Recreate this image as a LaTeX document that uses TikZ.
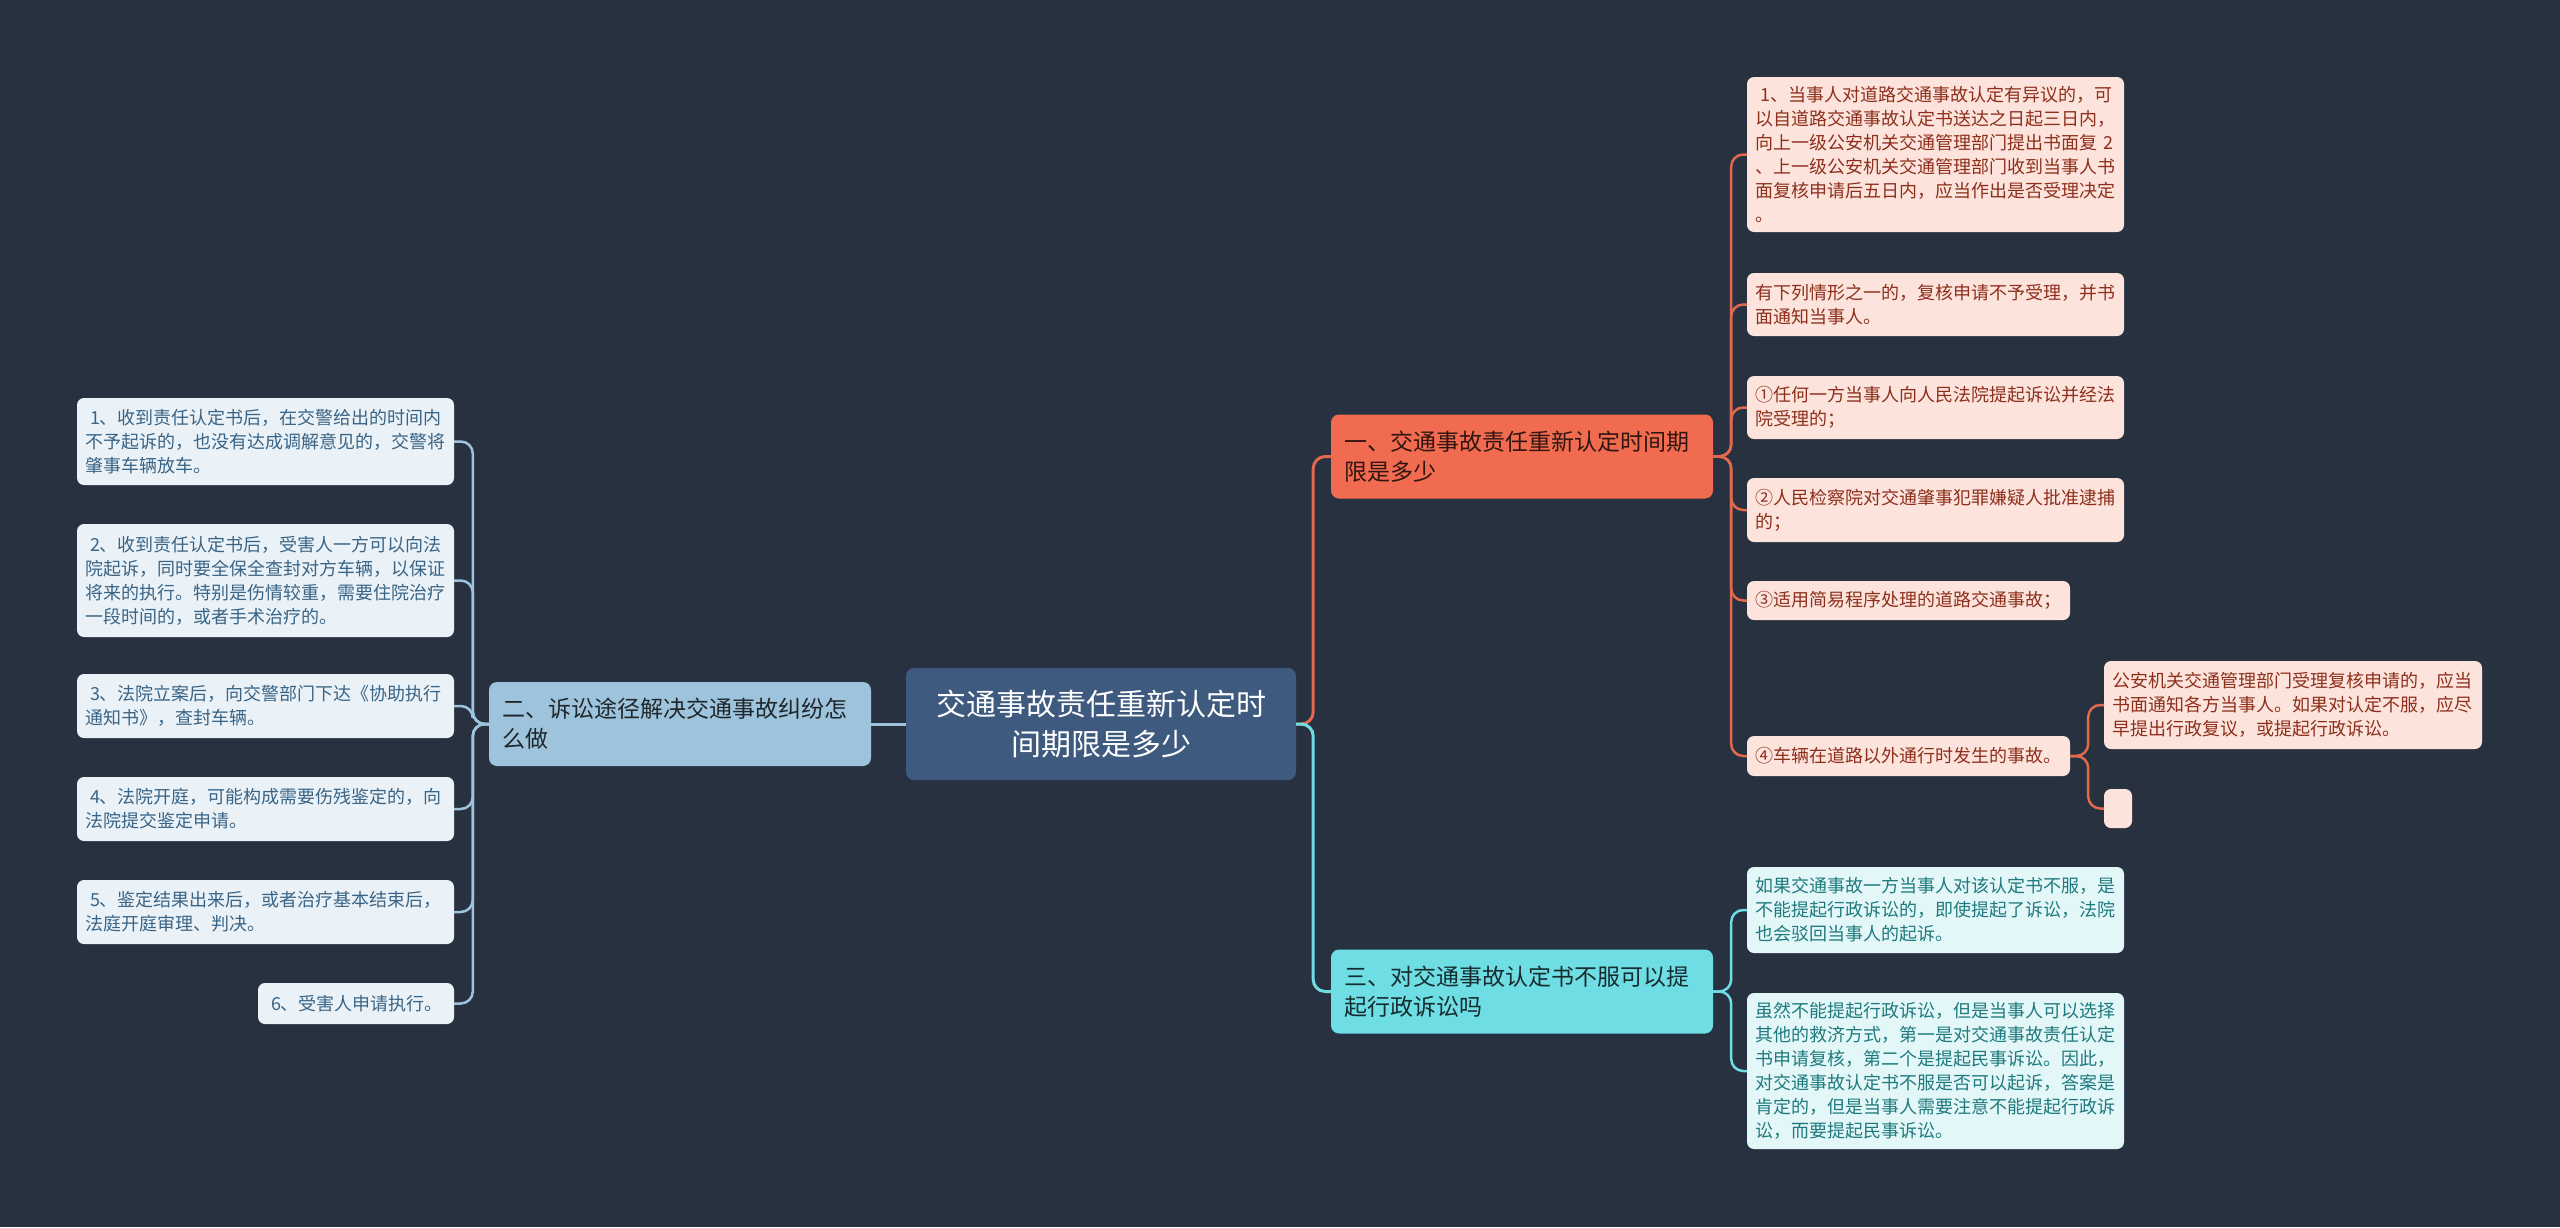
\documentclass[tikz,border=0pt]{standalone}
\usepackage{fontspec}
\setmainfont{Noto Sans CJK SC}
\definecolor{bg}{HTML}{283140}
\definecolor{rootfill}{HTML}{3E5A7F}
\definecolor{orangeB}{HTML}{F06B4F}
\definecolor{orangeL}{HTML}{E2694E}
\definecolor{cyanB}{HTML}{6EDDE4}
\definecolor{blueB}{HTML}{9EC4DD}
\definecolor{pinkleaf}{HTML}{FCE4DD}
\definecolor{pinktext}{HTML}{8E2F1C}
\definecolor{cyanleaf}{HTML}{E3F7F8}
\definecolor{cyantext}{HTML}{1E7A7D}
\definecolor{blueleaf}{HTML}{EAF2F8}
\definecolor{bluetext}{HTML}{3A6485}
\tikzset{
  rootbox/.style={fill=rootfill, rounded corners=8pt, text=white, align=center,
    font=\fontsize{30}{40}\selectfont, minimum width=390pt, minimum height=112pt, inner sep=0pt},
  branchbox/.style={rounded corners=8pt, align=left, text width=356pt, inner xsep=13pt,
    font=\fontsize{23}{30}\selectfont, minimum height=84pt},
  leafbox/.style={rounded corners=7pt, align=left, inner xsep=8pt,
    font=\fontsize{18}{24}\selectfont},
  pinkbox/.style={leafbox, fill=pinkleaf, text=pinktext},
  cyanbox/.style={leafbox, fill=cyanleaf, text=cyantext},
  bluebox/.style={leafbox, fill=blueleaf, text=bluetext},
  mainconn/.style={line width=3pt, rounded corners=12pt},
  leafconn/.style={line width=2.5pt, rounded corners=12pt},
}
\begin{document}
\begin{tikzpicture}[x=1pt, y=-1pt]
\fill[bg] (0,0) rectangle (2560,1227);
\useasboundingbox (0,0) rectangle (2560,1227);

% root
\node[rootbox] (root) at (1101,724) {交通事故责任重新认定时\\间期限是多少};

% branches
\node[branchbox, fill=orangeB, text=black!80!orangeB] (b1) at (1522,456.5) {一、交通事故责任重新认定时间期\\限是多少};
\node[branchbox, fill=blueB, text=black!80!blueB] (b2) at (680,724) {二、诉讼途径解决交通事故纠纷怎\\么做};
\node[branchbox, fill=cyanB, text=black!80!cyanB] (b3) at (1522,991.5) {三、对交通事故认定书不服可以提\\起行政诉讼吗};

% branch 1 leaves
\node[pinkbox, text width=361pt, minimum height=155pt] (l1) at (1935.5,154.5) {\hspace{5pt}1、当事人对道路交通事故认定有异议的，可\\以自道路交通事故认定书送达之日起三日内，\\向上一级公安机关交通管理部门提出书面复 2\\、上一级公安机关交通管理部门收到当事人书\\面复核申请后五日内，应当作出是否受理决定\\。};
\node[pinkbox, text width=361pt, minimum height=63pt] (l2) at (1935.5,304.5) {有下列情形之一的，复核申请不予受理，并书\\面通知当事人。};
\node[pinkbox, text width=361pt, minimum height=63pt] (l3) at (1935.5,407.5) {①任何一方当事人向人民法院提起诉讼并经法\\院受理的；};
\node[pinkbox, text width=361pt, minimum height=64pt] (l4) at (1935.5,510) {②人民检察院对交通肇事犯罪嫌疑人批准逮捕\\的；};
\node[pinkbox, text width=307pt, minimum height=39pt] (l5) at (1908.5,600.5) {③适用简易程序处理的道路交通事故；};
\node[pinkbox, text width=307pt, minimum height=40pt] (l6) at (1908.5,756) {④车辆在道路以外通行时发生的事故。};
\node[pinkbox, text width=362pt, minimum height=88pt] (c1) at (2293,705) {公安机关交通管理部门受理复核申请的，应当\\书面通知各方当事人。如果对认定不服，应尽\\早提出行政复议，或提起行政诉讼。};
\node[pinkbox, minimum width=28pt, minimum height=39pt, inner sep=0pt] (c2) at (2118,808.5) {};

% branch 3 leaves
\node[cyanbox, text width=361pt, minimum height=86pt] (t1) at (1935.5,910) {如果交通事故一方当事人对该认定书不服，是\\不能提起行政诉讼的，即使提起了诉讼，法院\\也会驳回当事人的起诉。};
\node[cyanbox, text width=361pt, minimum height=156pt] (t2) at (1935.5,1071) {虽然不能提起行政诉讼，但是当事人可以选择\\其他的救济方式，第一是对交通事故责任认定\\书申请复核，第二个是提起民事诉讼。因此，\\对交通事故认定书不服是否可以起诉，答案是\\肯定的，但是当事人需要注意不能提起行政诉\\讼，而要提起民事诉讼。};

% branch 2 leaves
\node[bluebox, text width=361pt, minimum height=87pt] (e1) at (265.5,441.5) {\hspace{5pt}1、收到责任认定书后，在交警给出的时间内\\不予起诉的，也没有达成调解意见的，交警将\\肇事车辆放车。};
\node[bluebox, text width=361pt, minimum height=113pt] (e2) at (265.5,580.5) {\hspace{5pt}2、收到责任认定书后，受害人一方可以向法\\院起诉，同时要全保全查封对方车辆，以保证\\将来的执行。特别是伤情较重，需要住院治疗\\一段时间的，或者手术治疗的。};
\node[bluebox, text width=361pt, minimum height=64pt] (e3) at (265.5,706) {\hspace{5pt}3、法院立案后，向交警部门下达《协助执行\\通知书》，查封车辆。};
\node[bluebox, text width=361pt, minimum height=64pt] (e4) at (265.5,809) {\hspace{5pt}4、法院开庭，可能构成需要伤残鉴定的，向\\法院提交鉴定申请。};
\node[bluebox, text width=361pt, minimum height=64pt] (e5) at (265.5,912) {\hspace{5pt}5、鉴定结果出来后，或者治疗基本结束后，\\法庭开庭审理、判决。};
\node[bluebox, text width=180pt, minimum height=41pt] (e6) at (356,1003.5) {\hspace{5pt}6、受害人申请执行。};

% connectors root
\draw[mainconn, orangeL] (root.east) -- ++(17,0) |- (b1.west);
\draw[mainconn, cyanB] (root.east) -- ++(17,0) |- (b3.west);
\draw[mainconn, blueB] (root.west) -- (b2.east);

% branch 1
\foreach \n in {l1,l2,l3,l4,l5,l6}
  \draw[leafconn, orangeL] (b1.east) -- ++(18,0) |- (\n.west);
\foreach \n in {c1,c2}
  \draw[leafconn, orangeL] (l6.east) -- ++(18,0) |- (\n.west);
% branch 3
\foreach \n in {t1,t2}
  \draw[leafconn, cyanB] (b3.east) -- ++(18,0) |- (\n.west);
% branch 2
\foreach \n in {e1,e2,e3,e4,e5,e6}
  \draw[leafconn, blueB] (b2.west) -- ++(-16,0) |- (\n.east);
\end{tikzpicture}
\end{document}
